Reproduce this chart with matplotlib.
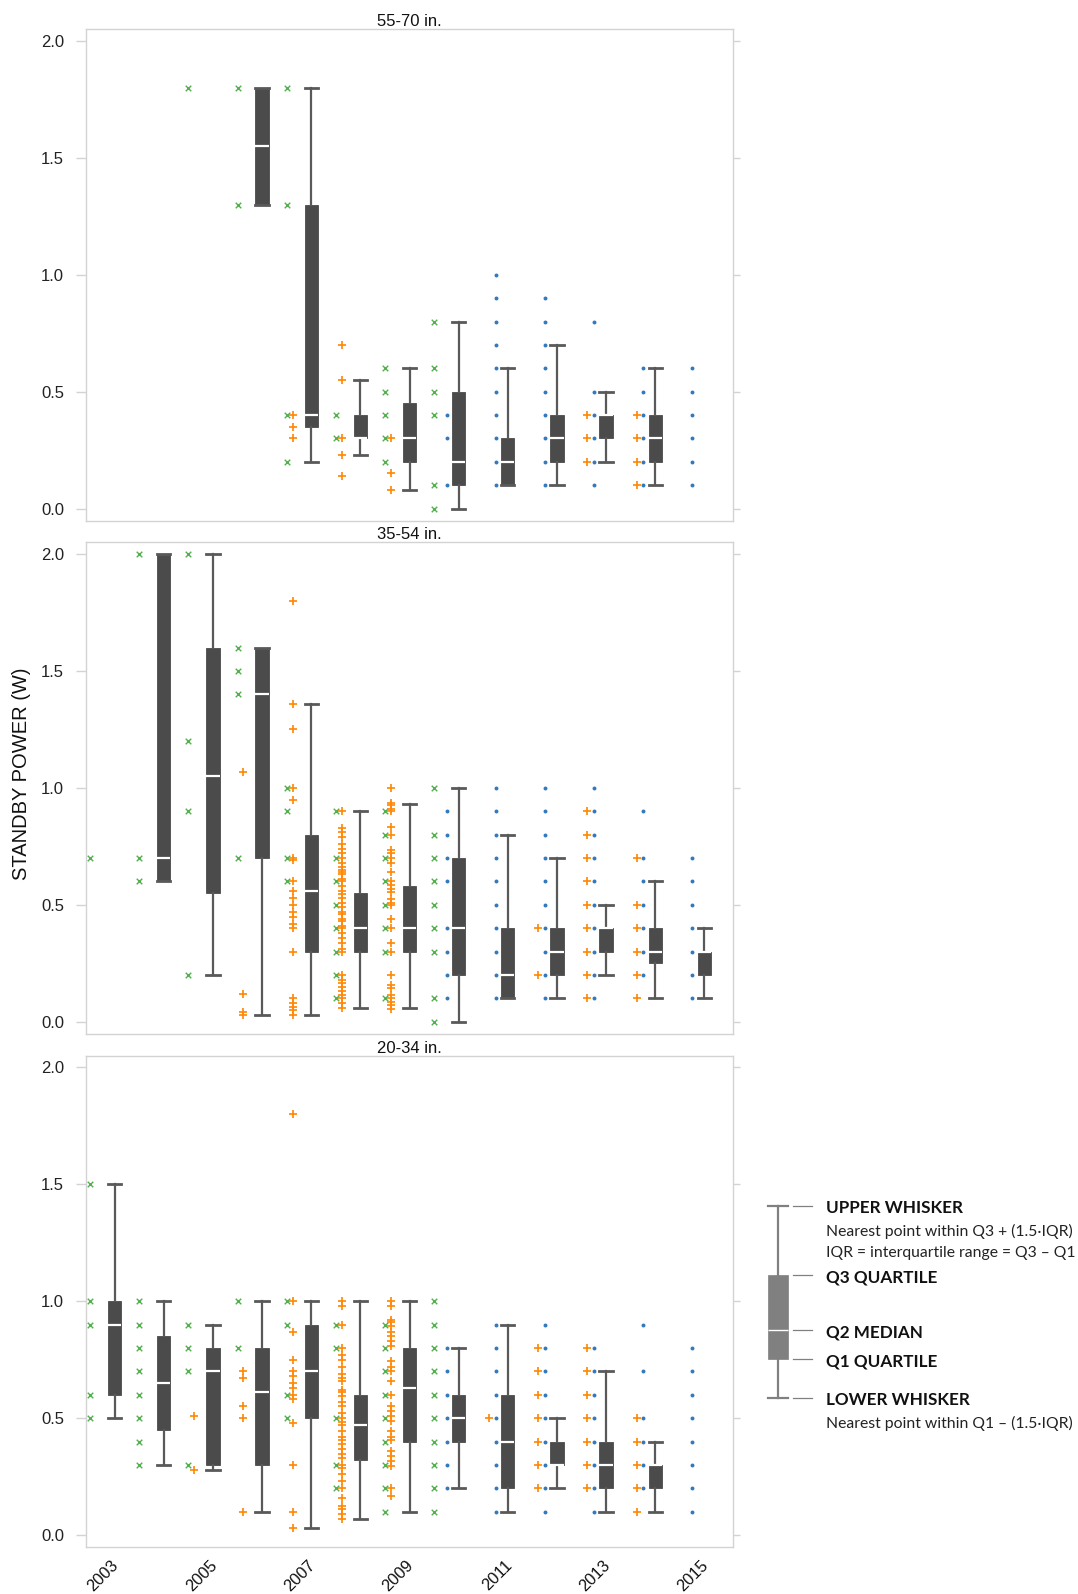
import matplotlib
matplotlib.use("Agg")
import matplotlib.pyplot as plt
import matplotlib.transforms as mtransforms

plt.rcParams['font.family'] = ['Liberation Sans', 'DejaVu Sans']

# ---------------- data ----------------
PANEL_TITLES = ["55-70 in.", "35-54 in.", "20-34 in."]
X_TICKS = [2003, 2005, 2007, 2009, 2011, 2013, 2015]
Y_TICKS = [0.0, 0.5, 1.0, 1.5, 2.0]

# box statistics (whislo, q1, med, q3, whishi) per panel
TOP_BOX_YEARS = [2006, 2007, 2008, 2009, 2010, 2011, 2012, 2013, 2014]
TOP_WHISLO = [1.3, 0.2, 0.23, 0.08, 0.0, 0.1, 0.1, 0.2, 0.1]
TOP_Q1 = [1.3, 0.35, 0.3, 0.2, 0.1, 0.1, 0.2, 0.3, 0.2]
TOP_MED = [1.55, 0.4, 0.3, 0.3, 0.2, 0.2, 0.3, 0.4, 0.3]
TOP_Q3 = [1.8, 1.3, 0.4, 0.45, 0.5, 0.3, 0.4, 0.4, 0.4]
TOP_WHISHI = [1.8, 1.8, 0.55, 0.6, 0.8, 0.6, 0.7, 0.5, 0.6]

MID_BOX_YEARS = [2004, 2005, 2006, 2007, 2008, 2009, 2010, 2011, 2012, 2013, 2014, 2015]
MID_WHISLO = [0.6, 0.2, 0.03, 0.03, 0.06, 0.06, 0.0, 0.1, 0.1, 0.2, 0.1, 0.1]
MID_Q1 = [0.6, 0.55, 0.7, 0.3, 0.3, 0.3, 0.2, 0.1, 0.2, 0.3, 0.25, 0.2]
MID_MED = [0.7, 1.05, 1.4, 0.56, 0.4, 0.4, 0.4, 0.2, 0.3, 0.4, 0.3, 0.3]
MID_Q3 = [2.0, 1.6, 1.6, 0.8, 0.55, 0.58, 0.7, 0.4, 0.4, 0.4, 0.4, 0.3]
MID_WHISHI = [2.0, 2.0, 1.6, 1.36, 0.9, 0.93, 1.0, 0.8, 0.7, 0.5, 0.6, 0.4]

BOT_BOX_YEARS = [2003, 2004, 2005, 2006, 2007, 2008, 2009, 2010, 2011, 2012, 2013, 2014]
BOT_WHISLO = [0.5, 0.3, 0.28, 0.1, 0.03, 0.07, 0.1, 0.2, 0.1, 0.2, 0.1, 0.1]
BOT_Q1 = [0.6, 0.45, 0.3, 0.3, 0.5, 0.32, 0.4, 0.4, 0.2, 0.3, 0.2, 0.2]
BOT_MED = [0.9, 0.65, 0.7, 0.61, 0.7, 0.47, 0.63, 0.5, 0.4, 0.3, 0.3, 0.3]
BOT_Q3 = [1.0, 0.85, 0.8, 0.8, 0.9, 0.6, 0.8, 0.6, 0.6, 0.4, 0.4, 0.3]
BOT_WHISHI = [1.5, 1.0, 0.9, 1.0, 1.0, 1.0, 1.0, 0.8, 0.9, 0.5, 0.7, 0.4]

# individual points (year -> values), three series
TOP_GREEN = {2005: [1.8], 2006: [1.8, 1.3], 2007: [1.8, 1.3, 0.4, 0.2],
             2008: [0.4, 0.3], 2009: [0.6, 0.5, 0.4, 0.3, 0.2],
             2010: [0.8, 0.6, 0.5, 0.4, 0.1, 0.0]}
TOP_ORANGE = {2007: [0.4, 0.35, 0.3], 2008: [0.7, 0.55, 0.3, 0.23, 0.14],
              2009: [0.3, 0.15, 0.08], 2013: [0.4, 0.3, 0.2],
              2014: [0.4, 0.3, 0.2, 0.1]}
TOP_BLUE = {2010: [0.4, 0.3, 0.1],
            2011: [1.0, 0.9, 0.8, 0.7, 0.6, 0.5, 0.4, 0.3, 0.2, 0.1],
            2012: [0.9, 0.8, 0.7, 0.6, 0.5, 0.4, 0.3, 0.2, 0.1],
            2013: [0.8, 0.5, 0.4, 0.3, 0.2, 0.1],
            2014: [0.6, 0.5, 0.4, 0.3, 0.2, 0.1],
            2015: [0.6, 0.5, 0.4, 0.3, 0.2, 0.1]}

MID_GREEN = {2003: [0.7], 2004: [2.0, 0.7, 0.6], 2005: [2.0, 1.2, 0.9, 0.2],
             2006: [1.6, 1.5, 1.4, 0.7], 2007: [1.0, 0.9, 0.7, 0.6],
             2008: [0.9, 0.7, 0.6, 0.5, 0.4, 0.3, 0.2, 0.1],
             2009: [0.9, 0.8, 0.7, 0.6, 0.5, 0.4, 0.3, 0.1],
             2010: [1.0, 0.8, 0.7, 0.6, 0.5, 0.4, 0.3, 0.1, 0.0]}
MID_ORANGE = {2006: [1.07, 0.12, 0.04, 0.03],
              2007: [1.8, 1.36, 1.25, 1.0, 0.95, 0.7, 0.69, 0.6, 0.56, 0.53, 0.5,
                     0.47, 0.45, 0.42, 0.4, 0.3, 0.1, 0.08, 0.065, 0.05, 0.03],
              2008: [0.9, 0.83, 0.81, 0.79, 0.76, 0.74, 0.72, 0.70, 0.68, 0.66,
                     0.65, 0.64, 0.63, 0.61, 0.60, 0.58, 0.56, 0.545, 0.53, 0.51,
                     0.49, 0.47, 0.46, 0.44, 0.43, 0.41, 0.40, 0.38, 0.36, 0.335,
                     0.31, 0.30, 0.20, 0.18, 0.165, 0.15, 0.13, 0.115, 0.10,
                     0.08, 0.06],
              2009: [1.0, 0.935, 0.925, 0.91, 0.9, 0.835, 0.80, 0.735, 0.72, 0.70,
                     0.68, 0.64, 0.60, 0.585, 0.57, 0.555, 0.525, 0.51, 0.50,
                     0.44, 0.40, 0.335, 0.30, 0.20, 0.157, 0.143, 0.114, 0.10,
                     0.086, 0.071, 0.057],
              2012: [0.4, 0.2],
              2013: [0.9, 0.8, 0.7, 0.6, 0.5, 0.4, 0.3, 0.2, 0.1],
              2014: [0.7, 0.5, 0.4, 0.3, 0.2, 0.1]}
MID_BLUE = {2010: [0.9, 0.8, 0.7, 0.6, 0.4, 0.3, 0.2, 0.1],
            2011: [1.0, 0.9, 0.8, 0.7, 0.6, 0.5, 0.4, 0.3, 0.2, 0.1],
            2012: [1.0, 0.9, 0.8, 0.7, 0.6, 0.5, 0.4, 0.3, 0.2, 0.1],
            2013: [1.0, 0.9, 0.8, 0.7, 0.6, 0.5, 0.4, 0.3, 0.2, 0.1],
            2014: [0.9, 0.7, 0.6, 0.5, 0.4, 0.3, 0.2],
            2015: [0.7, 0.6, 0.5, 0.4, 0.3, 0.2, 0.1]}

BOT_GREEN = {2003: [1.5, 1.0, 0.9, 0.6, 0.5],
             2004: [1.0, 0.9, 0.8, 0.7, 0.6, 0.5, 0.4, 0.3],
             2005: [0.9, 0.8, 0.7, 0.3], 2006: [1.0, 0.8],
             2007: [1.0, 0.9, 0.6, 0.5], 2008: [0.9, 0.8, 0.5, 0.3, 0.2],
             2009: [0.9, 0.8, 0.7, 0.6, 0.5, 0.4, 0.3, 0.2, 0.1],
             2010: [1.0, 0.9, 0.8, 0.7, 0.6, 0.5, 0.4, 0.3, 0.2, 0.1]}
BOT_ORANGE = {2005: [0.51, 0.28], 2006: [0.7, 0.67, 0.55, 0.5, 0.1],
              2007: [1.8, 1.0, 0.87, 0.75, 0.7, 0.68, 0.65, 0.63, 0.6, 0.58,
                     0.48, 0.3, 0.1, 0.03],
              2008: [1.0, 0.98, 0.9, 0.80, 0.77, 0.75, 0.72, 0.69, 0.67, 0.66,
                     0.62, 0.61, 0.595, 0.57, 0.55, 0.52, 0.50, 0.485, 0.47,
                     0.445, 0.42, 0.405, 0.39, 0.37, 0.345, 0.33, 0.30, 0.285,
                     0.26, 0.23, 0.20, 0.16, 0.125, 0.11, 0.09, 0.07],
              2009: [1.0, 0.98, 0.92, 0.91, 0.895, 0.87, 0.85, 0.83, 0.81, 0.745,
                     0.72, 0.70, 0.66, 0.60, 0.55, 0.53, 0.51, 0.49, 0.445, 0.42,
                     0.405, 0.36, 0.34, 0.315, 0.295, 0.20, 0.167],
              2011: [0.5],
              2012: [0.8, 0.7, 0.6, 0.5, 0.4, 0.3, 0.2],
              2013: [0.8, 0.7, 0.6, 0.5, 0.4, 0.3, 0.2],
              2014: [0.5, 0.4, 0.3, 0.2, 0.1]}
BOT_BLUE = {2010: [0.8, 0.7, 0.6, 0.5, 0.4, 0.3, 0.2],
            2011: [0.9, 0.8, 0.7, 0.6, 0.5, 0.4, 0.3, 0.2, 0.1],
            2012: [0.9, 0.8, 0.7, 0.6, 0.5, 0.4, 0.3, 0.2, 0.1],
            2013: [0.8, 0.7, 0.6, 0.5, 0.4, 0.3, 0.2, 0.1],
            2014: [0.9, 0.7, 0.5, 0.4, 0.3, 0.2],
            2015: [0.8, 0.7, 0.6, 0.5, 0.4, 0.3, 0.2, 0.1]}

# legend diagram (arbitrary units)
LEGEND_STATS = dict(whislo=0.0, q1=3.9, med=6.8, q3=12.3, whishi=19.2)
LEGEND_HEADINGS = ["UPPER WHISKER", "Q3 QUARTILE", "Q2 MEDIAN", "Q1 QUARTILE", "LOWER WHISKER"]
LEGEND_UPPER_NOTES = ["Nearest point within Q3 + (1.5\u00b7IQR)",
                      "IQR = interquartile range = Q3 \u2013 Q1"]
LEGEND_LOWER_NOTE = "Nearest point within Q1 \u2013 (1.5\u00b7IQR)"

# ---------------- style ----------------
W, H = 1078, 1594
GREEN, ORANGE, BLUE = '#52b04c', '#ff8a0a', '#3479bc'
BOX_FACE = '#4b4b4b'
WHISK = '#595959'
FRAME = '#d3d3d3'
OFF_GREEN, OFF_ORANGE, OFF_BLUE = -0.50, -0.38, -0.245

fig = plt.figure(figsize=(W / 100, H / 100), dpi=100)


def px_rect(x0, y0, x1, y1):
    return [x0 / W, 1 - y1 / H, (x1 - x0) / W, (y1 - y0) / H]


PANEL_RECTS = [(85.7, 29.3, 733.3, 520.7), (85.7, 542.3, 733.3, 1034.0),
               (85.7, 1055.6, 733.3, 1547.3)]

panels = [
    (TOP_BOX_YEARS, TOP_WHISLO, TOP_Q1, TOP_MED, TOP_Q3, TOP_WHISHI, TOP_GREEN, TOP_ORANGE, TOP_BLUE),
    (MID_BOX_YEARS, MID_WHISLO, MID_Q1, MID_MED, MID_Q3, MID_WHISHI, MID_GREEN, MID_ORANGE, MID_BLUE),
    (BOT_BOX_YEARS, BOT_WHISLO, BOT_Q1, BOT_MED, BOT_Q3, BOT_WHISHI, BOT_GREEN, BOT_ORANGE, BOT_BLUE),
]

for i, (rect, title, pdata) in enumerate(zip(PANEL_RECTS, PANEL_TITLES, panels)):
    years, wlo, q1, med, q3, whi, green, orange, blue = pdata
    ax = fig.add_axes(px_rect(*rect))
    stats = [dict(whislo=a, q1=b, med=c, q3=d, whishi=e, fliers=[])
             for a, b, c, d, e in zip(wlo, q1, med, q3, whi)]
    ax.bxp(stats, positions=years, widths=0.27, capwidths=0.27,
           patch_artist=True, showfliers=False, manage_ticks=False,
           boxprops=dict(facecolor=BOX_FACE, edgecolor=BOX_FACE, linewidth=0.6),
           whiskerprops=dict(color=WHISK, linewidth=1.6),
           capprops=dict(color=WHISK, linewidth=2.0),
           medianprops=dict(color='white', linewidth=1.6, solid_capstyle='butt'))
    for yr, vals in green.items():
        ax.scatter([yr + OFF_GREEN] * len(vals), vals, marker='x', s=16,
                   color=GREEN, linewidths=1.0, zorder=3)
    for yr, vals in orange.items():
        ax.scatter([yr + OFF_ORANGE] * len(vals), vals, marker='+', s=32,
                   color=ORANGE, linewidths=1.25, zorder=3)
    for yr, vals in blue.items():
        ax.scatter([yr + OFF_BLUE] * len(vals), vals, marker='o', s=8,
                   color=BLUE, linewidths=0, zorder=3)

    ax.set_xlim(2002.41, 2015.59)
    ax.set_ylim(-0.052, 2.050)
    for sp in ax.spines.values():
        sp.set_color(FRAME)
        sp.set_linewidth(1.0)
    ax.set_yticks(Y_TICKS)
    ax.set_yticklabels([f"{v:.1f}" for v in Y_TICKS])
    ax.tick_params(axis='y', which='both', left=True, right=True, direction='out',
                   color=FRAME, width=1.0, labelsize=12, labelcolor='#222222')
    ax.tick_params(axis='y', which='major', length=7.2, pad=8.5)
    for t in ax.yaxis.get_major_ticks():
        t.tick2line.set_markersize(5)
    ax.set_title(title, fontsize=12, pad=1.5, color='#111111')

    ax.set_xticks(X_TICKS)
    if i == 2:
        ax.set_xticklabels([str(x) for x in X_TICKS], rotation=45, ha='right',
                           va='baseline', rotation_mode='anchor',
                           fontsize=11.8, color='#111111')
        ax.tick_params(axis='x', length=0, pad=13.5)
        offset = mtransforms.ScaledTranslation(4.8 / 100, 0, fig.dpi_scale_trans)
        for lab in ax.get_xticklabels():
            lab.set_transform(lab.get_transform() + offset)
    else:
        ax.tick_params(axis='x', length=0, labelbottom=False)

fig.text(21.7 / W, 1 - 774 / H, "STANDBY POWER (W)", rotation=90,
         ha='center', va='center', fontsize=14.5, color='#111111')

# ---------------- legend diagram ----------------
lax = fig.add_axes(px_rect(740, 1180, 1078, 1440))
lax.set_xlim(0, 338)
lax.set_ylim(-4.17, 21.83)
lax.axis('off')
lax.bxp([dict(LEGEND_STATS, fliers=[])], positions=[37.8], widths=19.7, capwidths=19.7,
        patch_artist=True, showfliers=False, manage_ticks=False,
        boxprops=dict(facecolor='#808080', edgecolor='#808080', linewidth=0.5),
        whiskerprops=dict(color='#808080', linewidth=1.6),
        capprops=dict(color='#808080', linewidth=1.6),
        medianprops=dict(color='white', linewidth=1.0))
levels = [LEGEND_STATS['whishi'], LEGEND_STATS['q3'], LEGEND_STATS['med'],
          LEGEND_STATS['q1'], LEGEND_STATS['whislo']]
LFONT = ['Lato', 'DejaVu Sans']
for lvl, head in zip(levels, LEGEND_HEADINGS):
    lax.plot([53.3, 71.7], [lvl, lvl], color='#808080', linewidth=0.9)
    lax.text(86, lvl - 0.2, head, fontsize=12.3, fontweight='bold',
             va='center', ha='left', family=LFONT, color='#111111')
lax.text(86, 16.66, LEGEND_UPPER_NOTES[0], fontsize=11.3, va='center', ha='left',
         family=LFONT, color='#222222')
lax.text(86, 14.50, LEGEND_UPPER_NOTES[1], fontsize=11.3, va='center', ha='left',
         family=LFONT, color='#222222')
lax.text(86, -2.47, LEGEND_LOWER_NOTE, fontsize=11.3, va='center', ha='left',
         family=LFONT, color='#222222')

fig.savefig('out.png', dpi=100)
